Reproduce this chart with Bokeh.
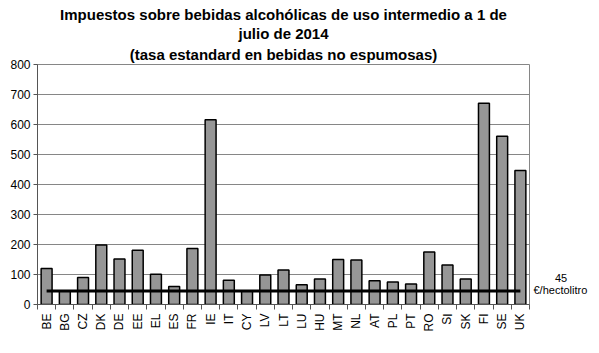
from bokeh.plotting import figure
from bokeh.models import FixedTicker, Range1d, LinearAxis, Title, ColumnDataSource
from bokeh.embed import file_html
from bokeh.resources import INLINE

countries = ["BE", "BG", "CZ", "DK", "DE", "EE", "EL", "ES", "FR", "IE", "IT", "CY", "LV", "LT",
             "LU", "HU", "MT", "NL", "AT", "PL", "PT", "RO", "SI", "SK", "FI", "SE", "UK"]
tax = [120, 45, 90, 198, 152, 181, 101, 60, 187, 616, 81, 45, 98, 115,
       66, 85, 150, 148, 79, 75, 68, 175, 132, 85, 671, 561, 447]
minimum = 45
y_ticks = [0, 100, 200, 300, 400, 500, 600, 700, 800]
title_lines = ["Impuestos sobre bebidas alcohólicas de uso intermedio a 1 de",
               "julio de 2014",
               "(tasa estandard en bebidas no espumosas)"]
min_label = "\u00a0" * 7 + "45\n€/hectolitro"

FONT = "Liberation Sans"
n = len(countries)
xs = [i + 0.5 for i in range(n)]

p = figure(width=599, height=353, output_backend="svg", toolbar_location=None,
           x_range=Range1d(0, n), y_range=Range1d(0, 800),
           min_border_left=37, min_border_right=70, min_border_top=64, min_border_bottom=49)
p.background_fill_color = "white"
p.border_fill_color = "white"
p.outline_line_color = "#868686"

src = ColumnDataSource(dict(x=xs, top=tax))
p.vbar(x="x", top="top", width=0.6, source=src, fill_color="#969696",
       line_color="black", line_width=1.5)
p.line(x=[xs[0], xs[-1]], y=[minimum, minimum], line_color="black", line_width=3)

# axes
p.xaxis.ticker = FixedTicker(ticks=xs, minor_ticks=list(range(n + 1)))
p.xaxis.major_label_overrides = {x: c for x, c in zip(xs, countries)}
p.xaxis.major_label_orientation = 3.14159 / 2
p.xaxis.major_tick_out = 0
p.xaxis.major_tick_in = 0
p.xaxis.minor_tick_out = 5
p.xaxis.minor_tick_in = 0
p.xaxis.axis_line_color = "#555555"
p.xaxis.minor_tick_line_color = "#555555"
p.xaxis.major_label_text_font = FONT
p.xaxis.major_label_text_font_size = "12px"
p.xaxis.major_label_text_color = "black"
p.xaxis.major_label_standoff = 4

p.yaxis.ticker = FixedTicker(ticks=y_ticks)
p.yaxis.minor_tick_line_color = None
p.yaxis.major_tick_out = 4
p.yaxis.major_tick_in = 0
p.yaxis.axis_line_color = "#555555"
p.yaxis.major_tick_line_color = "#555555"
p.yaxis.major_label_text_font = FONT
p.yaxis.major_label_text_font_size = "12px"
p.yaxis.major_label_text_color = "black"
p.yaxis.major_label_standoff = 3

# right axis carrying the minimum-rate note
label_pos = 67
ra = LinearAxis(ticker=FixedTicker(ticks=[label_pos]),
                major_label_overrides={label_pos: min_label})
ra.axis_line_color = None
ra.major_tick_line_color = None
ra.minor_tick_line_color = None
ra.major_label_standoff = -2
ra.major_label_text_font = FONT
ra.major_label_text_font_size = "11px"
ra.major_label_text_line_height = 1.0
ra.major_label_text_color = "black"
p.add_layout(ra, "right")

p.xgrid.grid_line_color = None
p.ygrid.grid_line_color = "#868686"
p.ygrid.grid_line_width = 1

# titles (stacked, innermost first)
standoffs = [0, 0, 4]
for line, so in reversed(list(zip(title_lines, standoffs))):
    t = Title(text=line, align="center", text_font=FONT, text_font_size="15px",
              text_font_style="bold", text_color="black", standoff=so, text_line_height=1.0)
    p.add_layout(t, "above")

open("out.html", "w").write(file_html(p, INLINE))
